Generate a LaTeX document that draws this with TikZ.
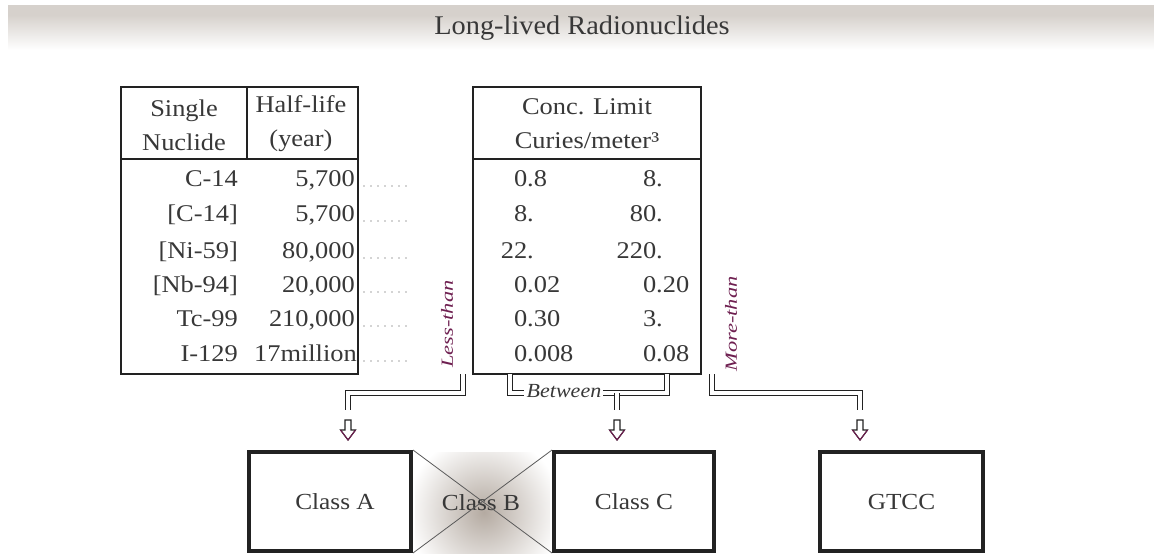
\documentclass[tikz,border=0pt]{standalone}
\usepackage{fontspec}
\setmainfont{Liberation Serif}[FakeStretch=1.1]
\newfontfamily\titlefont{Liberation Serif}[FakeStretch=1.05]
\usetikzlibrary{calc}
\definecolor{ink}{HTML}{383838}
\definecolor{frame}{HTML}{222222}
\definecolor{plum}{HTML}{6E1F50}
\definecolor{band}{HTML}{D6D1CC}
\definecolor{glow}{HTML}{B4AAA1}
\definecolor{dotgray}{HTML}{A8A8A8}
\definecolor{crossgray}{HTML}{5A5A5A}
\begin{document}
\begin{tikzpicture}[x=1pt,y=-1pt,
  txt/.style={inner sep=0pt, text=ink, font=\fontsize{24}{34}\selectfont},
  rowl/.style={txt, anchor=base east},
  rowv/.style={txt, anchor=base west},
  tab/.style={draw=frame, line width=1.8pt, inner sep=0pt},
  rule/.style={draw=frame, line width=1.8pt},
  dbl/.style={draw=frame, double=white, double distance=3.4pt, line width=1.2pt, line join=miter},
  lead/.style={draw=dotgray, line width=1.6pt, line cap=round, dash pattern=on 0pt off 7pt},
  side/.style={inner sep=0pt, text=plum, rotate=90, font=\fontsize{17}{17}\selectfont\itshape},
  cls/.style={draw=frame, line width=4pt, inner sep=0pt, text=ink, font=\fontsize{23}{26}\selectfont},
  pics/downarr/.style={code={
    \draw[frame, line width=1.1pt, line join=miter] (-3,-10) -- (3,-10) -- (3,0) -- (7.5,0) -- (0,10) -- (-7.5,0) -- (-3,0) -- cycle;
    \draw[plum, line width=1.1pt, line join=miter] (7.5,0) -- (0,10) -- (-7.5,0);
  }}
]
\useasboundingbox (0,0) rectangle (1154,554);
\fill[white] (0,0) rectangle (1154,554);

% title band
\fill[band] (8,5) rectangle (1154,15);
\shade[top color=band, bottom color=white] (8,15) rectangle (1154,50);
\node[inner sep=0pt, text=ink, font=\titlefont\fontsize{27}{27}\selectfont] (title) at (582,28) {Long-lived Radionuclides};

% left table
\node[tab, minimum width=237pt, minimum height=287pt] (t1) at (239.5,230.5) {};
\draw[rule] (121,159) -- (358,159);
\draw[rule] (247,87) -- (247,159);
\node[txt, align=center] (hn) at (184,125) {Single\\Nuclide};
\node[txt, align=center] (hh) at (301,124) {Half-life\\(year)};

\node[rowl] (n1) at (238,186) {C-14};
\node[rowl] (n2) at (238,221) {[C-14]};
\node[rowl] (n3) at (238,258) {[Ni-59]};
\node[rowl] (n4) at (238,292) {[Nb-94]};
\node[rowl] (n5) at (238,326) {Tc-99};
\node[rowl] (n6) at (238,361) {I-129};

\node[rowl] (v1) at (355,186) {5,700};
\node[rowl] (v2) at (355,221) {5,700};
\node[rowl] (v3) at (355,258) {80,000};
\node[rowl] (v4) at (355,292) {20,000};
\node[rowl] (v5) at (355,326) {210,000};
\node[rowl] (v6) at (357,361) {17million};

\foreach \y in {186,221,258,292,326,361}{
  \draw[lead] (364,\y) -- (412,\y);
}

% right table
\node[tab, minimum width=228pt, minimum height=287pt] (t2) at (587,230.5) {};
\draw[rule] (473,159) -- (701,159);
\node[txt, align=center] (hc) at (587,124) {Conc. Limit\\Curies/meter³};

\node[rowv] (a1) at (527,186) {\llap{0}.8};
\node[rowv] (a2) at (527,221) {\llap{8}.};
\node[rowv] (a3) at (527,258) {\llap{22}.};
\node[rowv] (a4) at (527,292) {\llap{0}.02};
\node[rowv] (a5) at (527,326) {\llap{0}.30};
\node[rowv] (a6) at (527,361) {\llap{0}.008};

\node[rowv] (b1) at (656,186) {\llap{8}.};
\node[rowv] (b2) at (656,221) {\llap{80}.};
\node[rowv] (b3) at (656,258) {\llap{220}.};
\node[rowv] (b4) at (656,292) {\llap{0}.20};
\node[rowv] (b5) at (656,326) {\llap{3}.};
\node[rowv] (b6) at (656,361) {\llap{0}.08};

% side labels
\node[side] (less) at (447,324) {\scalebox{1.2}[1]{Less-than}};
\node[side] (more) at (731,324) {\scalebox{1.2}[1]{More-than}};

% connector anchors
\coordinate (lt) at (463,374);
\coordinate (mt) at (712,374);
\coordinate (bl) at (510,374);
\coordinate (br) at (667,374);
\coordinate (jC) at (617,393);
\coordinate (aA) at (348,410);
\coordinate (aC) at (617,410);
\coordinate (aG) at (860,410);

\node[inner sep=0pt, text=ink, font=\fontsize{20}{20}\selectfont\itshape] (btw) at (564,391) {Between};

\draw[dbl] (lt) -- ++(0,19) -| (aA);
\draw[dbl] (mt) -- ++(0,19) -| (aG);
\draw[dbl] (bl) |- ([xshift=-3pt,yshift=-2pt]btw.west);
\draw[dbl] (br) |- ([xshift=2pt,yshift=-2pt]btw.east);
\draw[dbl] (jC) -- (aC);

\pic at (348,430) {downarr};
\pic at (617,430) {downarr};
\pic at (860,430) {downarr};

% Class B glow
\begin{scope}
  \clip (415,452) rectangle (550,554);
  \shade[inner color=glow, outer color=white] (484,512) circle (78);
\end{scope}
\node[txt, font=\fontsize{23}{26}\selectfont] (B) at (481,503) {Class B};

% class boxes
\node[cls, minimum width=162pt, minimum height=99pt] (A) at (330,501.5) {\hspace*{10pt}Class A};
\node[cls, minimum width=160pt, minimum height=99pt] (C) at (634,501.5) {Class C};
\node[cls, minimum width=163pt, minimum height=99pt] (G) at (901.5,501.5) {GTCC};

\draw[crossgray, line width=0.8pt] (A.north east) -- (C.south west);
\draw[crossgray, line width=0.8pt] (C.north west) -- (A.south east);
\end{tikzpicture}
\end{document}
